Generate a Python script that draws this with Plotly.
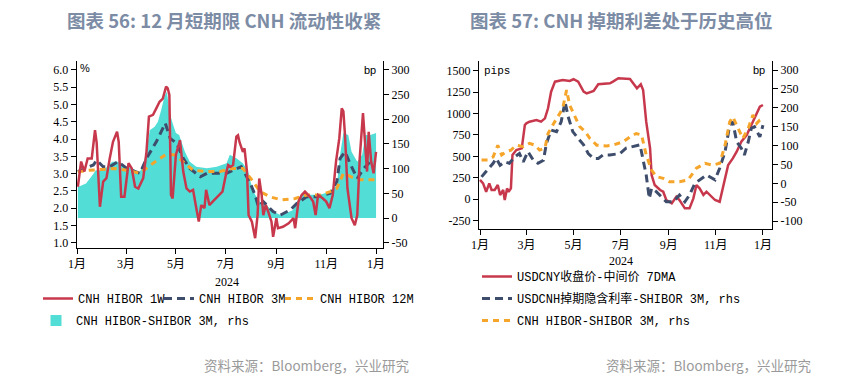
import plotly.graph_objects as go

# ---------------- Left chart data (图表 56) ----------------
hibor_1w_dates = [
    "2024-01-02","2024-01-06","2024-01-10","2024-01-14","2024-01-19","2024-01-23","2024-01-25","2024-01-29",
    "2024-02-02","2024-02-06","2024-02-10","2024-02-14","2024-02-19","2024-02-21","2024-02-24","2024-02-28",
    "2024-03-04","2024-03-08","2024-03-12","2024-03-16","2024-03-22","2024-03-26","2024-03-29",
    "2024-04-03","2024-04-07","2024-04-11","2024-04-15","2024-04-19","2024-04-21","2024-04-23","2024-04-25","2024-04-27",
    "2024-05-01","2024-05-06","2024-05-10","2024-05-14","2024-05-18","2024-05-22","2024-05-26","2024-05-29",
    "2024-06-01","2024-06-05","2024-06-07","2024-06-11","2024-06-15","2024-06-19","2024-06-23","2024-06-27",
    "2024-07-02","2024-07-04","2024-07-07","2024-07-10","2024-07-14","2024-07-16","2024-07-18","2024-07-22","2024-07-24","2024-07-27","2024-07-29",
    "2024-08-02","2024-08-06","2024-08-09","2024-08-11","2024-08-14","2024-08-16","2024-08-19","2024-08-22","2024-08-26","2024-08-28",
    "2024-09-01","2024-09-03","2024-09-09","2024-09-16","2024-09-22","2024-09-24","2024-09-28",
    "2024-10-02","2024-10-06","2024-10-12","2024-10-16","2024-10-19","2024-10-22","2024-10-28",
    "2024-11-01","2024-11-05","2024-11-09","2024-11-13","2024-11-17","2024-11-20","2024-11-22","2024-11-24","2024-11-27",
    "2024-12-02","2024-12-06","2024-12-09","2024-12-12","2024-12-16","2024-12-18","2024-12-21","2024-12-23","2024-12-26","2024-12-29",
    "2025-01-01",
]
hibor_1w = [
    2.62,3.35,3.06,3.44,3.44,4.26,3.90,2.04,
    2.77,2.87,3.44,3.92,4.21,3.92,2.33,2.33,
    3.30,3.15,2.62,2.57,2.87,3.63,4.65,
    4.70,4.89,5.08,5.17,5.52,5.47,5.28,2.38,2.28,
    3.54,3.97,3.06,2.57,2.48,2.53,2.00,1.61,
    2.09,2.00,2.53,2.09,2.19,2.28,2.38,2.48,
    3.06,3.25,3.20,3.25,4.07,4.11,3.90,3.63,3.73,3.06,1.80,
    1.61,1.13,1.80,2.86,2.38,1.80,2.09,1.90,1.61,1.17,
    1.71,1.42,1.46,1.56,1.71,1.42,2.19,
    2.38,2.48,2.33,2.19,1.80,2.38,2.28,
    2.19,2.00,2.38,3.35,4.02,4.89,4.80,4.11,2.57,
    1.71,1.51,1.80,3.44,4.75,3.92,3.06,4.21,3.35,3.01,
    3.63,
]

hibor_3m_dates = [
    "2024-01-02","2024-01-21","2024-01-25","2024-02-02","2024-02-10","2024-02-20","2024-03-02","2024-03-18",
    "2024-03-26","2024-04-07","2024-04-18","2024-04-24","2024-05-02","2024-05-10","2024-05-18","2024-05-31",
    "2024-06-08","2024-06-20","2024-07-02","2024-07-10","2024-07-20","2024-07-31","2024-08-06","2024-08-10",
    "2024-08-16","2024-08-28","2024-09-06","2024-09-18","2024-09-26","2024-10-08","2024-10-21","2024-11-06",
    "2024-11-14","2024-11-18","2024-11-24","2024-12-01","2024-12-09","2024-12-17","2024-12-25","2025-01-01",
]
hibor_3m = [
    3.06,3.25,3.39,3.20,3.20,3.35,3.15,3.01,
    3.44,3.92,4.46,4.02,3.88,3.44,3.15,2.91,
    3.01,3.01,3.01,3.10,3.20,2.72,2.38,2.04,
    2.19,1.90,1.80,1.95,2.14,2.33,2.33,2.43,
    2.77,3.44,3.63,3.25,2.86,3.15,3.35,3.35,
]

hibor_12m_dates = [
    "2024-01-02","2024-01-16","2024-02-01","2024-02-15","2024-03-02","2024-03-18","2024-04-03","2024-04-19",
    "2024-04-30","2024-05-10","2024-05-22","2024-06-07","2024-06-24","2024-07-10","2024-07-22","2024-08-02",
    "2024-08-12","2024-08-24","2024-09-07","2024-09-24","2024-10-08","2024-10-24","2024-11-06","2024-11-14",
    "2024-11-22","2024-12-01","2024-12-12","2025-01-01",
]
hibor_12m = [
    3.05,3.10,3.12,3.15,3.10,3.01,3.30,3.56,
    3.54,3.35,3.10,3.06,3.06,3.15,3.15,2.82,
    2.48,2.33,2.24,2.28,2.38,2.38,2.48,2.57,
    3.01,2.91,2.82,2.82,
]

spread_dates = [
    "2024-01-02","2024-01-12","2024-01-20","2024-01-24","2024-01-30","2024-02-05","2024-02-13","2024-02-21",
    "2024-03-01","2024-03-09","2024-03-17","2024-03-21","2024-03-26","2024-03-30","2024-04-05","2024-04-09",
    "2024-04-13","2024-04-17","2024-04-20","2024-04-23","2024-04-27","2024-05-01","2024-05-05","2024-05-12",
    "2024-05-18","2024-05-26","2024-06-08","2024-06-20","2024-07-02","2024-07-06","2024-07-14","2024-07-22",
    "2024-07-28","2024-08-01","2024-08-06","2024-08-12","2024-08-20","2024-08-28","2024-09-06","2024-09-13",
    "2024-09-21","2024-09-26","2024-10-02","2024-10-12","2024-10-24","2024-11-06","2024-11-14","2024-11-18",
    "2024-11-22","2024-11-28","2024-12-02","2024-12-09","2024-12-15","2024-12-19","2024-12-25","2025-01-01",
]
spread_bp = [
    63,70,87,97,97,101,114,114,
    104,101,91,104,134,178,185,195,
    219,246,256,215,192,172,168,134,
    114,104,101,104,111,128,121,111,
    97,70,47,33,26,13,6,10,
    16,33,47,47,47,53,67,128,
    172,168,134,114,128,168,168,172,
]

# ---------------- Right chart data (图表 57) ----------------
usdcny_dates = [
    "2024-01-01","2024-01-05","2024-01-09","2024-01-13","2024-01-16","2024-01-20","2024-01-24","2024-01-27","2024-01-31",
    "2024-02-02","2024-02-05","2024-02-07","2024-02-10","2024-02-12","2024-02-17","2024-02-24","2024-02-28",
    "2024-03-01","2024-03-05","2024-03-14","2024-03-20","2024-03-25","2024-03-29",
    "2024-04-02","2024-04-07","2024-04-17","2024-04-26",
    "2024-05-01","2024-05-07","2024-05-14","2024-05-18","2024-05-27",
    "2024-06-02","2024-06-17","2024-06-21","2024-06-28",
    "2024-07-13","2024-07-19","2024-07-22","2024-07-27","2024-07-30",
    "2024-08-03","2024-08-08","2024-08-10","2024-08-14","2024-08-21","2024-08-25","2024-08-29",
    "2024-09-05","2024-09-11","2024-09-15","2024-09-22","2024-09-28",
    "2024-10-03","2024-10-07","2024-10-11","2024-10-16","2024-10-20","2024-10-24","2024-10-31",
    "2024-11-06","2024-11-10","2024-11-17","2024-11-23","2024-11-28",
    "2024-12-04","2024-12-11","2024-12-17","2024-12-24","2024-12-28",
    "2025-01-01",
]
usdcny_pips = [
    225,186,88,186,108,108,166,50,108,
    -9,127,88,127,516,575,594,866,
    886,905,925,905,944,1061,
    1255,1372,1391,1380,
    1400,1372,1255,1236,1264,
    1341,1353,1372,1411,
    1403,1325,1295,1341,1275,
    905,594,283,166,108,88,-9,
    -48,30,-9,-106,-106,
    10,166,127,50,88,50,-9,
    -29,127,400,477,555,
    672,750,866,1002,1080,
    1100,
]

swap_dates = [
    "2024-01-03","2024-01-11","2024-01-18","2024-01-22","2024-01-27",
    "2024-02-02","2024-02-08","2024-02-15","2024-02-21","2024-02-26",
    "2024-03-03","2024-03-10","2024-03-16","2024-03-23","2024-03-27",
    "2024-04-02","2024-04-09","2024-04-15","2024-04-20","2024-04-24","2024-04-30",
    "2024-05-07","2024-05-14","2024-05-20","2024-05-27",
    "2024-06-02","2024-06-08","2024-06-17","2024-06-30",
    "2024-07-08","2024-07-17","2024-07-26","2024-07-30",
    "2024-08-03","2024-08-07","2024-08-10","2024-08-16","2024-08-23","2024-08-29",
    "2024-09-07","2024-09-15","2024-09-22","2024-09-28",
    "2024-10-05","2024-10-11","2024-10-20","2024-10-31",
    "2024-11-06","2024-11-13","2024-11-19","2024-11-23","2024-11-28",
    "2024-12-04","2024-12-08","2024-12-13","2024-12-17","2024-12-21","2024-12-28",
    "2025-01-01",
]
swap_bp = [
    17,35,53,66,48,
    57,53,70,79,57,
    84,61,53,61,106,
    141,137,163,216,177,137,
    119,102,79,66,
    66,75,75,79,
    93,97,102,62,
    22,-40,-13,-22,-36,-49,
    -49,-31,-49,-31,
    0,9,22,9,
    40,84,154,163,110,
    93,75,110,146,150,123,
    154,
]

cnh_spread_dates = [
    "2024-01-03","2024-01-11","2024-01-18","2024-01-24","2024-01-29",
    "2024-02-04","2024-02-10","2024-02-17","2024-02-26",
    "2024-03-05","2024-03-12","2024-03-18","2024-03-25","2024-03-29",
    "2024-04-04","2024-04-11","2024-04-17","2024-04-22","2024-04-26",
    "2024-05-03","2024-05-09","2024-05-16","2024-05-22","2024-05-31",
    "2024-06-13","2024-06-21",
    "2024-07-04","2024-07-13","2024-07-21","2024-07-28",
    "2024-08-03","2024-08-10","2024-08-16","2024-08-25",
    "2024-09-02","2024-09-15","2024-09-26",
    "2024-10-07","2024-10-18","2024-10-28",
    "2024-11-06","2024-11-13","2024-11-19","2024-11-23","2024-11-30",
    "2024-12-06","2024-12-13","2024-12-19","2024-12-24","2024-12-28",
    "2025-01-01",
]
cnh_spread_bp = [
    62,62,70,101,75,
    84,88,101,97,
    106,101,88,93,132,
    154,176,198,247,207,
    176,150,137,119,101,
    99,101,
    110,123,132,128,
    75,35,18,13,
    4,4,9,
    40,53,48,
    53,101,163,176,146,
    119,146,181,159,168,
    172,
]

month_ticks = ["2024-01-01","2024-03-01","2024-05-01","2024-07-01","2024-09-01","2024-11-01","2025-01-01"]
month_labels = ["1月","3月","5月","7月","9月","11月","1月"]

left_pct_ticks = [1.0,1.5,2.0,2.5,3.0,3.5,4.0,4.5,5.0,5.5,6.0]
left_bp_ticks = [-50,0,50,100,150,200,250,300]
right_pips_ticks = [-250,0,250,500,750,1000,1250,1500]
right_bp_ticks = [-100,-50,0,50,100,150,200,250,300]

# ---------------- Styling ----------------
# the page body adds an 8px offset, so the figure is sized to fill the rest of the window
OX, OY = 8, 8
W, H = 867 - OX, 384 - OY
RED = "#C8384C"
NAVY = "#3E4D6C"
ORANGE = "#F5A52A"
TEAL = "#52DDD7"
TICK_FONT = dict(family="Liberation Serif, Noto Sans CJK SC", size=12, color="black")
LEG_FONT = dict(family="Liberation Mono, Noto Sans CJK SC", size=12, color="black")

def hx(p):
    return (p - OX) / W

def vy(p):
    return 1 - (p - OY) / H

def num_text(v):
    return str(v)

fig = go.Figure()

# Left chart
fig.add_trace(go.Scatter(x=spread_dates, y=spread_bp, xaxis="x", yaxis="y", mode="none",
                         fill="tozeroy", fillcolor=TEAL, showlegend=False, hoverinfo="skip"))
fig.add_trace(go.Scatter(x=[None], y=[None], xaxis="x", yaxis="y", mode="markers",
                         marker=dict(symbol="square", size=11, color=TEAL),
                         name="CNH HIBOR-SHIBOR 3M, rhs", legend="legend2"))
fig.add_trace(go.Scatter(x=hibor_3m_dates, y=hibor_3m, xaxis="x", yaxis="y2", mode="lines",
                         line=dict(color=NAVY, width=3, dash="8px,5px"),
                         name="CNH HIBOR 3M", legend="legend", legendrank=2, legendwidth=76))
fig.add_trace(go.Scatter(x=hibor_12m_dates, y=hibor_12m, xaxis="x", yaxis="y2", mode="lines",
                         line=dict(color=ORANGE, width=3, dash="6px,5px"),
                         name="CNH HIBOR 12M", legend="legend", legendrank=3, legendwidth=100))
fig.add_trace(go.Scatter(x=hibor_1w_dates, y=hibor_1w, xaxis="x", yaxis="y2", mode="lines",
                         line=dict(color=RED, width=2.5),
                         name="CNH HIBOR 1W", legend="legend", legendrank=1, legendwidth=76))

# Right chart
fig.add_trace(go.Scatter(x=usdcny_dates, y=usdcny_pips, xaxis="x2", yaxis="y3", mode="lines",
                         line=dict(color=RED, width=2.5),
                         name="USDCNY收盘价-中间价 7DMA", legend="legend3", legendgroup="a"))
fig.add_trace(go.Scatter(x=swap_dates, y=swap_bp, xaxis="x2", yaxis="y4", mode="lines",
                         line=dict(color=NAVY, width=3, dash="8px,5px"),
                         name="USDCNH掉期隐含利率-SHIBOR 3M, rhs", legend="legend3", legendgroup="b"))
fig.add_trace(go.Scatter(x=cnh_spread_dates, y=cnh_spread_bp, xaxis="x2", yaxis="y4", mode="lines",
                         line=dict(color=ORANGE, width=3, dash="6px,5px"),
                         name="CNH HIBOR-SHIBOR 3M, rhs", legend="legend3", legendgroup="c"))

axis_common = dict(showline=True, linecolor="black", linewidth=1, ticks="outside", ticklen=5,
                   tickcolor="black", tickwidth=1, showgrid=False, zeroline=False,
                   tickfont=TICK_FONT, fixedrange=True, automargin=False)

legend_common = dict(font=LEG_FONT, bgcolor="rgba(0,0,0,0)", borderwidth=0,
                     xanchor="left", yanchor="top", itemclick=False, itemdoubleclick=False)

fig.update_layout(
    width=W, height=H, margin=dict(l=0, r=0, t=0, b=0, pad=0, autoexpand=False),
    paper_bgcolor="white", plot_bgcolor="white",
    xaxis=dict(domain=[hx(76.7), hx(383)], anchor="y", type="date",
               range=["2023-12-31 14:00", "2025-01-09 12:00"],
               tickmode="array", tickvals=month_ticks, ticktext=month_labels, **axis_common),
    yaxis=dict(domain=[vy(248), vy(61)], anchor="x", side="right", range=[-60.7, 318],
               tickmode="array", tickvals=left_bp_ticks, ticktext=[num_text(v) for v in left_bp_ticks],
               **axis_common),
    yaxis2=dict(overlaying="y", anchor="x", side="left", range=[0.847, 6.26],
                tickmode="array", tickvals=left_pct_ticks, ticktext=[f"{v:.1f}" for v in left_pct_ticks],
                **axis_common),
    xaxis2=dict(domain=[hx(479), hx(772)], anchor="y3", type="date",
                range=["2023-12-30 17:00", "2025-01-12 17:00"],
                tickmode="array", tickvals=month_ticks, ticktext=month_labels, **axis_common),
    yaxis3=dict(domain=[vy(229), vy(61)], anchor="x2", side="left", range=[-347, 1613],
                tickmode="array", tickvals=right_pips_ticks, ticktext=[num_text(v) for v in right_pips_ticks],
                **axis_common),
    yaxis4=dict(overlaying="y3", anchor="x2", side="right", range=[-121, 324],
                tickmode="array", tickvals=right_bp_ticks, ticktext=[num_text(v) for v in right_bp_ticks],
                **axis_common),
    legend=dict(orientation="h", x=hx(38), y=vy(284), **legend_common),
    legend2=dict(orientation="h", x=hx(36), y=vy(306), **legend_common),
    legend3=dict(orientation="v", x=hx(477), y=vy(262), tracegroupgap=3, **legend_common),
    showlegend=True,
)

TITLE_FONT = dict(family="Noto Sans CJK SC", size=18.5, color="#7C8CA5", weight="bold")
SRC_FONT = dict(family="Noto Sans CJK SC", size=13.5, color="#9A9A9A")
UNIT_FONT = dict(family="Liberation Sans, Noto Sans CJK SC", size=11, color="black")

annotations = [
    dict(text="图表 56: 12 月短期限 CNH 流动性收紧", x=hx(65), y=vy(20), xanchor="left", yanchor="middle",
         font=TITLE_FONT),
    dict(text="图表 57: CNH 掉期利差处于历史高位", x=hx(468), y=vy(20), xanchor="left", yanchor="middle",
         font=TITLE_FONT),
    dict(text="资料来源：Bloomberg，兴业研究", x=hx(411), y=vy(365), xanchor="right", yanchor="middle",
         font=SRC_FONT),
    dict(text="资料来源：Bloomberg，兴业研究", x=hx(813), y=vy(365), xanchor="right", yanchor="middle",
         font=SRC_FONT),
    dict(text="%", x=hx(84.5), y=vy(68), xanchor="center", yanchor="middle", font=UNIT_FONT),
    dict(text="bp", x=hx(370), y=vy(70), xanchor="center", yanchor="middle", font=UNIT_FONT),
    dict(text="pips", x=hx(497), y=vy(71), xanchor="center", yanchor="middle",
         font=dict(family="Liberation Mono", size=11, color="black")),
    dict(text="bp", x=hx(759), y=vy(70), xanchor="center", yanchor="middle", font=UNIT_FONT),
    dict(text="2024", xref="x", x="2024-07-02", y=vy(282), xanchor="center", yanchor="middle",
         font=TICK_FONT),
    dict(text="2024", xref="x2", x="2024-07-02", y=vy(261), xanchor="center", yanchor="middle",
         font=TICK_FONT),
]
for a in annotations:
    a.setdefault("xref", "paper")
    a["yref"] = "paper"
    a["showarrow"] = False
fig.update_layout(annotations=annotations)

fig.write_html("out.html", config={"displayModeBar": False})
